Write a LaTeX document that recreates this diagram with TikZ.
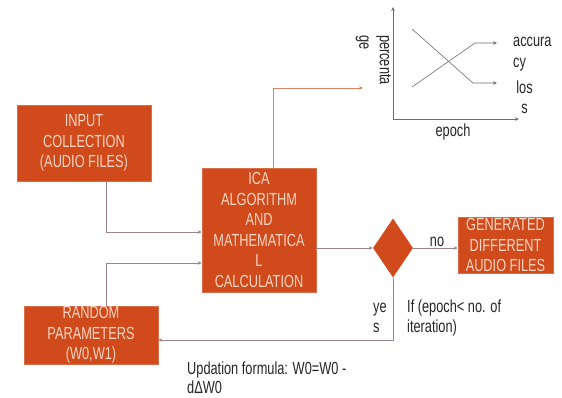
\documentclass[tikz,border=0pt]{standalone}
\usepackage{fontspec}
\setmainfont{Liberation Sans}[FakeStretch=0.73]
\usetikzlibrary{arrows.meta,shapes.geometric}
\definecolor{boxfill}{HTML}{D14A1C}
\definecolor{boxtext}{HTML}{F7D6C4}
\definecolor{wire}{HTML}{9C8584}
\definecolor{wireorange}{HTML}{D98463}
\definecolor{axis}{HTML}{6E6E6E}
\begin{document}
\begin{tikzpicture}[x=1pt,y=-1pt,
  every node/.style={font=\fontsize{17.5}{20.5}\selectfont},
  procbox/.style={rectangle,fill=boxfill,draw=boxfill!80!white,line width=0.6pt,
    text=boxtext,align=center,inner sep=0pt},
  decision/.style={diamond,fill=boxfill,draw=none,inner sep=0pt,
    minimum width=40pt,minimum height=59pt,aspect=0.68},
  tip/.style={-{Stealth[length=4pt,width=3.5pt]}},
  wireline/.style={draw=wire,line width=0.6pt,tip},
  plotline/.style={draw=axis,line width=0.6pt},
  note/.style={text=black!85,inner sep=0pt}]
\useasboundingbox (0,0) rectangle (562,397);

% process blocks
\node[procbox,minimum width=134pt,minimum height=76pt] (input) at (84,143)
  {INPUT\\COLLECTION\\(AUDIO FILES)};
\node[procbox,minimum width=114pt,minimum height=124pt] (ica) at (259,230)
  {ICA\\ALGORITHM\\AND\\MATHEMATICA\\L\\CALCULATION};
\node[procbox,minimum width=134pt,minimum height=58pt] (random) at (91,335)
  {RANDOM\\PARAMETERS\\(W0,W1)};
\node[procbox,minimum width=95pt,minimum height=56pt] (gen) at (505.5,245)
  {GENERATED\\DIFFERENT\\AUDIO FILES};
\node[decision] (dec) at (393,248) {};

% flow connectors
\draw[wireline] ([xshift=22pt]input.south) |- ([yshift=-2pt]ica.west);
\draw[wireline] ([xshift=15pt]random.north) |- ([yshift=-33pt]ica.west);
\draw[wireline] (ica.east |- dec.west) -- (dec.west);
\draw[wireline] (dec.east) -- (gen.west |- dec.east);
\draw[wireline] (dec.south) |- ([yshift=-5pt]random.east);
\coordinate (plotin) at (363,88);
\draw[draw=wireorange,line width=0.6pt,tip] ([xshift=14pt]ica.north) |- (plotin);

% accuracy / loss chart
\coordinate (origin) at (393,119);
\coordinate (ytop) at (393,7);
\coordinate (xend) at (519,119);
\draw[plotline,tip] (origin) -- (ytop);
\draw[plotline,tip] (origin) -- (xend);
\coordinate (lossA) at (412,29);
\coordinate (lossB) at (473,83);
\coordinate (lossC) at (497,83);
\coordinate (accA) at (412,87);
\coordinate (accB) at (475,43);
\coordinate (accC) at (497,43);
\draw[plotline,tip] (lossA) -- (lossB) -- (lossC);
\draw[plotline,tip] (accA) -- (accB) -- (accC);
\node[note,rotate=-90,align=left] (ylab) at (373.5,60) {percenta\\ge};
\node[note] (xlab) at (453,132) {epoch};
\node[note,align=left,anchor=west] (acclab) at (513,54) {accura\\cy};
\node[note,align=center] (losslab) at (524.5,97) {los\\s};

% labels on the flow
\node[note] (nolab) at (437,242) {no};
\node[note,align=left,anchor=west] (yeslab) at (373,318) {ye\\s};
\node[note,align=left,anchor=west] (condlab) at (407,318) {If (epoch< no. of\\iteration)};
\node[note,align=left,anchor=west,font=\fontsize{17.5}{19}\selectfont] (updlab) at (187,377.5)
  {Updation formula: W0=W0 -\\dΔW0};
\end{tikzpicture}
\end{document}
